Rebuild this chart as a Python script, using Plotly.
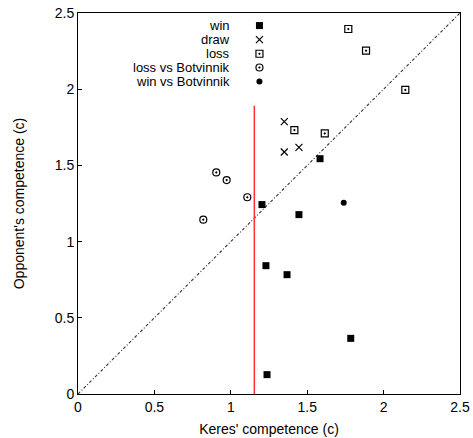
import plotly.graph_objects as go

# Game results: (Keres' competence, opponent's competence)
win_x = [1.785, 1.237, 1.230, 1.368, 1.446, 1.204, 1.584]
win_y = [0.365, 0.127, 0.842, 0.783, 1.177, 1.243, 1.544]

draw_x = [1.350, 1.350, 1.446]
draw_y = [1.787, 1.588, 1.618]

loss_x = [1.416, 1.615, 1.769, 1.885, 2.142]
loss_y = [1.732, 1.710, 2.395, 2.253, 1.995]

loss_botv_x = [0.820, 0.905, 0.973, 1.108]
loss_botv_y = [1.144, 1.454, 1.404, 1.291]

win_botv_x = [1.739]
win_botv_y = [1.255]

# Threshold line and reference diagonal
threshold_x = 1.154
threshold_top = 1.892
diag = [0, 2.5]

series_names = ["win", "draw", "loss", "loss vs Botvinnik", "win vs Botvinnik"]

FONT = "Liberation Sans, Arial, sans-serif"
FS = 14
KEY_FS = 13

styles = {
    "win": dict(symbol="square", size=7, color="black", line=dict(width=0)),
    "draw": dict(symbol="x-thin-open", size=7, color="black", line=dict(width=1.2, color="black")),
    "loss": dict(symbol="square-open-dot", size=7, color="black", line=dict(width=1.2, color="black")),
    "loss vs Botvinnik": dict(symbol="circle-open-dot", size=7, color="black", line=dict(width=1.2, color="black")),
    "win vs Botvinnik": dict(symbol="circle", size=6, color="black", line=dict(width=0)),
}
data = {
    "win": (win_x, win_y),
    "draw": (draw_x, draw_y),
    "loss": (loss_x, loss_y),
    "loss vs Botvinnik": (loss_botv_x, loss_botv_y),
    "win vs Botvinnik": (win_botv_x, win_botv_y),
}

fig = go.Figure()

# y = x reference diagonal
fig.add_trace(go.Scatter(x=diag, y=diag, mode="lines",
                         line=dict(color="#333333", width=1.1, dash="3px,2px,1px,2px"),
                         showlegend=False, hoverinfo="skip"))

# vertical threshold
fig.add_trace(go.Scatter(x=[threshold_x, threshold_x], y=[0, threshold_top], mode="lines",
                         line=dict(color="#ff3030", width=1.5),
                         showlegend=False, hoverinfo="skip"))

for name in series_names:
    xs, ys = data[name]
    fig.add_trace(go.Scatter(x=xs, y=ys, mode="markers", marker=styles[name],
                             name=name, showlegend=False))

# gnuplot-style key: right-aligned labels with symbols to their right
key_text_x = 0.40
key_mark_x = 0.475
key_rows = [0.967, 0.930, 0.893, 0.857, 0.820]
for name, ky in zip(series_names, key_rows):
    fig.add_annotation(x=key_text_x, y=ky, xref="paper", yref="paper",
                       text=name, showarrow=False, xanchor="right", yanchor="middle",
                       borderpad=0, font=dict(family=FONT, size=KEY_FS, color="black"))
    fig.add_trace(go.Scatter(x=[key_mark_x], y=[ky], mode="markers", marker=styles[name],
                             xaxis="x2", yaxis="y2", showlegend=False, hoverinfo="skip"))

axis_common = dict(
    showgrid=False, zeroline=False, showline=True, linecolor="black", linewidth=1,
    mirror=True, ticks="inside", ticklen=4, tickcolor="black", automargin=False,
    tickfont=dict(family=FONT, size=FS, color="black"),
    range=[0, 2.5], tickvals=[0, 0.5, 1, 1.5, 2, 2.5],
    ticktext=["0", "0.5", "1", "1.5", "2", "2.5"],
)

fig.update_layout(
    width=473, height=438,
    margin=dict(l=78, r=13, t=13, b=44),
    paper_bgcolor="white", plot_bgcolor="white",
    font=dict(family=FONT, size=FS, color="black"),
    xaxis=dict(**axis_common, title=dict(text="Keres' competence (c)",
                                         font=dict(family=FONT, size=FS), standoff=10)),
    yaxis=dict(**axis_common, title=dict(text="Opponent's competence (c)",
                                         font=dict(family=FONT, size=FS), standoff=26)),
    xaxis2=dict(overlaying="x", range=[0, 1], visible=False),
    yaxis2=dict(overlaying="y", range=[0, 1], visible=False),
    showlegend=False,
)

fig.write_html("out.html")
